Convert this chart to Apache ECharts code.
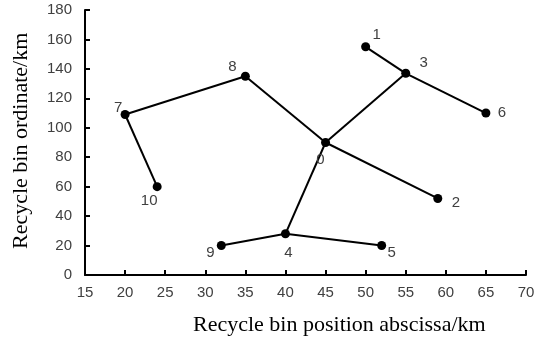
<!DOCTYPE html>
<html>
<head>
<meta charset="utf-8">
<script src="https://cdn.jsdelivr.net/npm/echarts@6/dist/echarts.min.js"></script>
<style>html,body{margin:0;padding:0;background:#fff;}#c{width:540px;height:341px;}</style>
</head>
<body>
<div id="c"></div>
<script>
// Data
var nodeIds = ['0','1','2','3','4','5','6','7','8','9','10'];
var nodeX = [45, 50, 59, 55, 40, 52, 65, 20, 35, 32, 24];
var nodeY = [90, 155, 52, 137, 28, 20, 110, 109, 135, 20, 60];
var edges = [[1,3],[3,6],[3,0],[0,2],[0,8],[8,7],[7,10],[0,4],[4,9],[4,5]];
var xTicks = [15, 70, 5];
var yTicks = [0, 180, 20];
var xName = 'Recycle bin position abscissa/km';
var yName = 'Recycle bin ordinate/km';

// label offsets (style)
var labelOffsets = {
  '0': [-5, 17], '1': [11, -12], '2': [18, 4], '3': [18, -10], '4': [3, 19],
  '5': [10, 7], '6': [16, 0], '7': [-7, -7], '8': [-13, -9], '9': [-11, 7], '10': [-8, 14]
};

var series = [];
edges.forEach(function (e) {
  series.push({
    type: 'line',
    data: [[nodeX[e[0]], nodeY[e[0]]], [nodeX[e[1]], nodeY[e[1]]]],
    showSymbol: false,
    symbol: 'none',
    lineStyle: { color: '#000', width: 2 },
    silent: true,
    z: 2
  });
});
series.push({
  type: 'scatter',
  symbolSize: 9,
  itemStyle: { color: '#000', opacity: 1 },
  z: 3,
  data: nodeIds.map(function (id, i) {
    return {
      value: [nodeX[i], nodeY[i]],
      label: {
        show: true,
        formatter: id,
        position: 'inside',
        offset: labelOffsets[id],
        color: '#404040',
        fontSize: 15,
        fontFamily: 'Liberation Sans, Arial, sans-serif'
      }
    };
  })
});

var chart = echarts.init(document.getElementById('c'), null, { renderer: 'canvas' });
chart.setOption({
  animation: false,
  backgroundColor: '#fff',
  grid: { left: 85, right: 14, top: 10, bottom: 66, containLabel: false },
  xAxis: {
    type: 'value', min: xTicks[0], max: xTicks[1], interval: xTicks[2],
    axisLine: { lineStyle: { color: '#000', width: 2 } },
    axisTick: { show: true, inside: true, length: 5, lineStyle: { color: '#000', width: 2 } },
    splitLine: { show: false },
    axisLabel: { color: '#404040', fontSize: 15, margin: 10, fontFamily: 'Liberation Sans, Arial, sans-serif' }
  },
  yAxis: {
    type: 'value', min: yTicks[0], max: yTicks[1], interval: yTicks[2],
    axisLine: { show: true, lineStyle: { color: '#000', width: 2 } },
    axisTick: { show: true, inside: true, length: 5, lineStyle: { color: '#000', width: 2 } },
    splitLine: { show: false },
    axisLabel: { color: '#404040', fontSize: 15, margin: 13, fontFamily: 'Liberation Sans, Arial, sans-serif' }
  },
  graphic: [
    {
      type: 'text', left: 193, top: 314,
      style: { text: xName, fill: '#000', font: '22px "Liberation Serif", "Times New Roman", serif' }
    },
    {
      type: 'text', rotation: Math.PI / 2,
      x: 10, y: 249,
      style: { text: yName, fill: '#000', font: '22px "Liberation Serif", "Times New Roman", serif', textAlign: 'left', textVerticalAlign: 'top' }
    }
  ],
  series: series
});
</script>
</body>
</html>
